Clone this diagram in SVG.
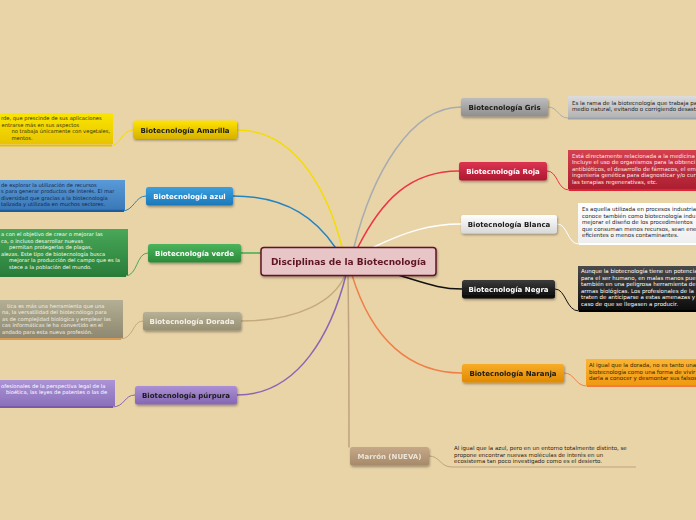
<svg xmlns="http://www.w3.org/2000/svg" width="696" height="520" viewBox="0 0 696 520">
<defs>
<filter id="sh" x="-20%" y="-40%" width="140%" height="200%"><feDropShadow dx="0.8" dy="1.5" stdDeviation="0.9" flood-color="#000" flood-opacity="0.35"/></filter>
<linearGradient id="gY" x1="0" y1="0" x2="0" y2="1"><stop offset="0" stop-color="#ffe400"/><stop offset="1" stop-color="#d6b000"/></linearGradient>
<linearGradient id="gB" x1="0" y1="0" x2="0" y2="1"><stop offset="0" stop-color="#3aa0e0"/><stop offset="1" stop-color="#1c78b8"/></linearGradient>
<linearGradient id="gG" x1="0" y1="0" x2="0" y2="1"><stop offset="0" stop-color="#4cb45c"/><stop offset="1" stop-color="#2a8a3a"/></linearGradient>
<linearGradient id="gD" x1="0" y1="0" x2="0" y2="1"><stop offset="0" stop-color="#b8b196"/><stop offset="1" stop-color="#948e72"/></linearGradient>
<linearGradient id="gP" x1="0" y1="0" x2="0" y2="1"><stop offset="0" stop-color="#ac90d4"/><stop offset="1" stop-color="#8466b2"/></linearGradient>
<linearGradient id="gGr" x1="0" y1="0" x2="0" y2="1"><stop offset="0" stop-color="#bcbcbc"/><stop offset="1" stop-color="#8e8e8e"/></linearGradient>
<linearGradient id="gR" x1="0" y1="0" x2="0" y2="1"><stop offset="0" stop-color="#dc3452"/><stop offset="1" stop-color="#ae1830"/></linearGradient>
<linearGradient id="gW" x1="0" y1="0" x2="0" y2="1"><stop offset="0" stop-color="#ffffff"/><stop offset="1" stop-color="#d8d8d8"/></linearGradient>
<linearGradient id="gK" x1="0" y1="0" x2="0" y2="1"><stop offset="0" stop-color="#3c3c3c"/><stop offset="1" stop-color="#080808"/></linearGradient>
<linearGradient id="gO" x1="0" y1="0" x2="0" y2="1"><stop offset="0" stop-color="#f8ac28"/><stop offset="1" stop-color="#e08a00"/></linearGradient>
<linearGradient id="gM" x1="0" y1="0" x2="0" y2="1"><stop offset="0" stop-color="#c4a888"/><stop offset="1" stop-color="#a68a68"/></linearGradient>
<linearGradient id="cY" x1="0" y1="0" x2="0" y2="1"><stop offset="0" stop-color="#fae600"/><stop offset="1" stop-color="#e8c400"/></linearGradient>
<linearGradient id="cB" x1="0" y1="0" x2="0" y2="1"><stop offset="0" stop-color="#5a9ad8"/><stop offset="1" stop-color="#3a78b8"/></linearGradient>
<linearGradient id="cG" x1="0" y1="0" x2="0" y2="1"><stop offset="0" stop-color="#48a858"/><stop offset="1" stop-color="#2a7e3a"/></linearGradient>
<linearGradient id="cD" x1="0" y1="0" x2="0" y2="1"><stop offset="0" stop-color="#b4ae94"/><stop offset="1" stop-color="#8e8870"/></linearGradient>
<linearGradient id="cP" x1="0" y1="0" x2="0" y2="1"><stop offset="0" stop-color="#ac94d6"/><stop offset="1" stop-color="#8a70ba"/></linearGradient>
<linearGradient id="cGr" x1="0" y1="0" x2="0" y2="1"><stop offset="0" stop-color="#dcdcdc"/><stop offset="1" stop-color="#b4b4b4"/></linearGradient>
<linearGradient id="cR" x1="0" y1="0" x2="0" y2="1"><stop offset="0" stop-color="#d4404e"/><stop offset="1" stop-color="#ac1e30"/></linearGradient>
<linearGradient id="cW" x1="0" y1="0" x2="0" y2="1"><stop offset="0" stop-color="#ffffff"/><stop offset="1" stop-color="#eeeeee"/></linearGradient>
<linearGradient id="cK" x1="0" y1="0" x2="0" y2="1"><stop offset="0" stop-color="#4a4a4a"/><stop offset="1" stop-color="#0c0c0c"/></linearGradient>
<linearGradient id="cO" x1="0" y1="0" x2="0" y2="1"><stop offset="0" stop-color="#fab434"/><stop offset="1" stop-color="#f09a12"/></linearGradient>
</defs>
<style>
.bg{fill:#e9d4a8}
.node{filter:url(#sh)}
.nt{font-family:"DejaVu Sans",Verdana,sans-serif;font-weight:bold;font-size:7px;text-anchor:middle}
.ct{font-family:"DejaVu Sans",Verdana,sans-serif;font-size:5.5px}
.lt{font-family:"DejaVu Sans",Verdana,sans-serif;font-size:5.2px}
.con{fill:none;stroke-width:1.5;stroke-linecap:round}
.sub{fill:none;stroke-width:1}
.ul{fill:none;stroke-width:2.2}
.dark{fill:#1a1a1a}
.light{fill:#ffffff}
</style>
<rect class="bg" x="0" y="0" width="696" height="520"/>

<g id="connectors">
<path class="con" stroke="#f5dc00" d="M237,130 C300,130 330,200 342,247"/>
<path class="con" stroke="#2484c0" d="M233,196 C290,196 318,222 335,247"/>
<path class="con" stroke="#3cb050" d="M241,253 L261,253"/>
<path class="con" stroke="#c4aa7c" d="M241,321 C300,321 335,300 345,275"/>
<path class="con" stroke="#8a66b2" d="M237,395 C300,395 332,330 346,275"/>
<path class="con" stroke="#a8acb0" d="M354,247 C372,175 410,107 461,107"/>
<path class="con" stroke="#ee3444" d="M358,247 C382,200 410,171 459,171"/>
<path class="con" stroke="#ffffff" d="M374,247 C405,232 430,224 461,224"/>
<path class="con" stroke="#111111" d="M398,275 C428,284 440,289 462,289"/>
<path class="con" stroke="#f08048" d="M352,275 C372,340 410,373 462,373"/>
<path class="con" stroke="#c0a27e" stroke-width="1" d="M348,275 C349,340 349,400 349,447"/>
<path class="sub" stroke="#f5dc00" d="M133,130 C122,130 120,146 110,146"/>
<path class="sub" stroke="#2484c0" d="M146,196 C135,196 134,211 122,211"/>
<path class="sub" stroke="#3cb050" d="M148,253 C136,253 138,276 125,276"/>
<path class="sub" stroke="#c4aa7c" d="M143,321 C132,321 134,339 120,339"/>
<path class="sub" stroke="#8a66b2" d="M135,395 C124,395 125,407 112,407"/>
<path class="sub" stroke="#a8acb0" d="M548,107 C558,107 558,118 568,118"/>
<path class="sub" stroke="#ee3444" d="M547,171 C558,171 557,190 569,190"/>
<path class="sub" stroke="#ffffff" d="M557,224 C568,224 567,244 579,244"/>
<path class="sub" stroke="#111111" d="M555,289 C566,289 566,311 579,311"/>
<path class="sub" stroke="#f08048" d="M564,373 C575,373 575,386 587,386"/>
<path class="sub" stroke="#c0a27e" d="M429,456 C440,456 440,467 452,467"/>
</g>

<g id="callout-amarilla">
<rect x="-5" y="113" width="118" height="31" fill="url(#cY)"/>
<path class="ul" stroke="#e6be00" d="M0,145.5 L112,145.5"/>
<text class="lt" fill="#3a3010"><tspan x="1" y="120">rde, que prescinde de sus aplicaciones</tspan><tspan x="1.5" y="126.5">entrarse más en sus aspectos</tspan><tspan x="11.5" y="133">no trabaja únicamente con vegetales,</tspan><tspan x="11.5" y="139.5">mentos.</tspan></text>
</g>
<g id="callout-azul">
<rect x="-5" y="180" width="130" height="30" fill="url(#cB)"/>
<path class="ul" stroke="#1a5c9c" d="M0,210.8 L124,210.8"/>
<text class="lt" fill="#15264a"><tspan x="1" y="187">de explorar la utilización de recursos</tspan><tspan x="1" y="193.3">s para generar productos de interés. El mar</tspan><tspan x="1" y="199.6">diversidad que gracias a la biotecnología</tspan><tspan x="1" y="205.9">talizada y utilizada en muchos sectores.</tspan></text>
</g>
<g id="callout-verde">
<rect x="-5" y="229" width="133" height="46" fill="url(#cG)"/>
<path class="ul" stroke="#2a7a3a" d="M0,275.8 L126,275.8"/>
<text class="lt" fill="#f4fff4"><tspan x="1" y="236">a con el objetivo de crear o mejorar las</tspan><tspan x="1" y="242.5">ca, o incluso desarrollar nuevas</tspan><tspan x="9" y="249">permitan protegerlas de plagas,</tspan><tspan x="1" y="255.5">alezas.   Este tipo de biotecnología busca</tspan><tspan x="9" y="262">mejorar la producción del campo que es la</tspan><tspan x="9" y="268.5">stece a la población del mundo.</tspan></text>
</g>
<g id="callout-dorada">
<rect x="-5" y="300" width="128" height="38" fill="url(#cD)"/>
<path class="ul" stroke="#d89c58" d="M0,339 L121,339"/>
<text class="lt" fill="#f2eee0"><tspan x="7" y="307.5">tica es más una herramienta que una</tspan><tspan x="2" y="314">na, la versatilidad del biotecnólogo para</tspan><tspan x="2" y="320.5">as de complejidad biológica y emplear las</tspan><tspan x="2" y="327">cas informáticas le ha convertido en el</tspan><tspan x="2" y="333.5">andado para esta nueva profesión.</tspan></text>
</g>
<g id="callout-purpura">
<rect x="-5" y="380" width="120" height="26" fill="url(#cP)"/>
<path class="ul" stroke="#7a58aa" d="M0,407 L113,407"/>
<text class="lt" fill="#ffffff"><tspan x="1" y="388">ofesionales de la perspectiva legal de la</tspan><tspan x="6" y="394.3">bioética, las leyes de patentes o las de</tspan></text>
</g>
<g id="callout-gris">
<rect x="568" y="96" width="135" height="21" fill="url(#cGr)"/>
<path class="ul" stroke="#9aa2aa" d="M568,118.3 L700,118.3"/>
<text class="ct" fill="#222"><tspan x="572" y="104.5">Es la rama de la biotecnología que trabaja pa</tspan><tspan x="572" y="111">medio natural, evitando o corrigiendo desast</tspan></text>
</g>
<g id="callout-roja">
<rect x="568" y="150" width="135" height="39" fill="url(#cR)"/>
<path class="ul" stroke="#e02434" d="M569,190 L700,190"/>
<text class="ct" fill="#fbe6e8"><tspan x="572" y="157.5">Está directamente relacionada a la medicina</tspan><tspan x="572" y="164">Incluye el uso de organismos para la obtenci</tspan><tspan x="572" y="170.5">antibióticos, el desarrollo de fármacos, el em</tspan><tspan x="572" y="177">ingeniería genética para diagnosticar y/o cur</tspan><tspan x="572" y="183.5">las terapias regenerativas, etc.</tspan></text>
</g>
<g id="callout-blanca">
<rect x="578" y="203" width="125" height="40" fill="url(#cW)"/>
<path class="ul" stroke="#ffffff" d="M579,244 L700,244"/>
<text class="ct" fill="#222"><tspan x="582" y="211">Es aquella utilizada en procesos industria</tspan><tspan x="582" y="217.5">conoce también como biotecnología indu</tspan><tspan x="582" y="224">mejorar el diseño de los procedimientos</tspan><tspan x="582" y="230.5">que consuman menos recursos, sean ene</tspan><tspan x="582" y="237">eficientes o menos contaminantes.</tspan></text>
</g>
<g id="callout-negra">
<rect x="578" y="266" width="125" height="44" fill="url(#cK)"/>
<path class="ul" stroke="#000000" d="M579,311 L700,311"/>
<text class="ct" fill="#ffffff"><tspan x="581" y="273">Aunque la biotecnología tiene un potencia</tspan><tspan x="581" y="279.5">para el ser humano, en malas manos pue</tspan><tspan x="581" y="286">también en una peligrosa herramienta de</tspan><tspan x="581" y="292.5">armas biológicas. Los profesionales de la</tspan><tspan x="581" y="299">traten de anticiparse a estas amenazas y</tspan><tspan x="581" y="305.5">caso de que se llegasen a producir.</tspan></text>
</g>
<g id="callout-naranja">
<rect x="586" y="359" width="117" height="26" fill="url(#cO)"/>
<path class="ul" stroke="#f07c40" d="M587,386 L700,386"/>
<text class="ct" fill="#3a2400"><tspan x="589" y="367">Al igual que la dorada, no es tanto una</tspan><tspan x="589" y="373.5">biotecnología como una forma de vivir</tspan><tspan x="589" y="380">darla a conocer y desmontar sus falsos</tspan></text>
</g>
<g id="callout-marron">
<path class="sub" stroke="#c0a27e" d="M452,467 L636,467"/>
<text class="ct" fill="#2a2010"><tspan x="454" y="450">Al igual que la azul, pero en un entorno totalmente distinto, se</tspan><tspan x="454" y="456.5">propone encontrar nuevas moléculas de interés en un</tspan><tspan x="454" y="463">ecosistema tan poco investigado como es el desierto.</tspan></text>
</g>

<g id="center" class="node">
<rect x="261" y="247.5" width="175" height="28" rx="3" fill="#e8c6c8" stroke="#5e1424" stroke-width="1.5"/>
<text x="348.5" y="265" font-family="DejaVu Sans, Verdana, sans-serif" font-weight="bold" font-size="9" text-anchor="middle" fill="#5e1424">Disciplinas de la Biotecnología</text>
</g>
<g id="n-amarilla" class="node"><rect x="133" y="120.5" width="104" height="18.5" rx="2.5" fill="url(#gY)"/><text class="nt dark" x="185" y="132.5">Biotecnología Amarilla</text></g>
<g id="n-azul" class="node"><rect x="146" y="187" width="87" height="18.5" rx="2.5" fill="url(#gB)"/><text class="nt light" x="189.5" y="199">Biotecnología azul</text></g>
<g id="n-verde" class="node"><rect x="148" y="244" width="93" height="18.5" rx="2.5" fill="url(#gG)"/><text class="nt light" x="194.5" y="256">Biotecnología verde</text></g>
<g id="n-dorada" class="node"><rect x="143" y="312" width="98" height="18.5" rx="2.5" fill="url(#gD)"/><text class="nt" fill="#f4f0e4" x="192" y="324">Biotecnología Dorada</text></g>
<g id="n-purpura" class="node"><rect x="135" y="386" width="102" height="18.5" rx="2.5" fill="url(#gP)"/><text class="nt dark" x="186" y="398">Biotecnología púrpura</text></g>
<g id="n-gris" class="node"><rect x="461" y="98" width="87" height="18.5" rx="2.5" fill="url(#gGr)"/><text class="nt dark" x="504.5" y="110">Biotecnología Gris</text></g>
<g id="n-roja" class="node"><rect x="459" y="162" width="88" height="18.5" rx="2.5" fill="url(#gR)"/><text class="nt light" x="503" y="174">Biotecnología Roja</text></g>
<g id="n-blanca" class="node"><rect x="461" y="215" width="96" height="18.5" rx="2.5" fill="url(#gW)"/><text class="nt dark" x="509" y="227">Biotecnología Blanca</text></g>
<g id="n-negra" class="node"><rect x="462" y="280" width="93" height="18.5" rx="2.5" fill="url(#gK)"/><text class="nt light" x="508.5" y="292">Biotecnología Negra</text></g>
<g id="n-naranja" class="node"><rect x="462" y="364" width="102" height="18.5" rx="2.5" fill="url(#gO)"/><text class="nt dark" x="513" y="376">Biotecnología Naranja</text></g>
<g id="n-marron" class="node"><rect x="350" y="447" width="79" height="18.5" rx="2.5" fill="url(#gM)"/><text class="nt" fill="#ece4d8" x="389.5" y="459">Marrón (NUEVA)</text></g>
</svg>
